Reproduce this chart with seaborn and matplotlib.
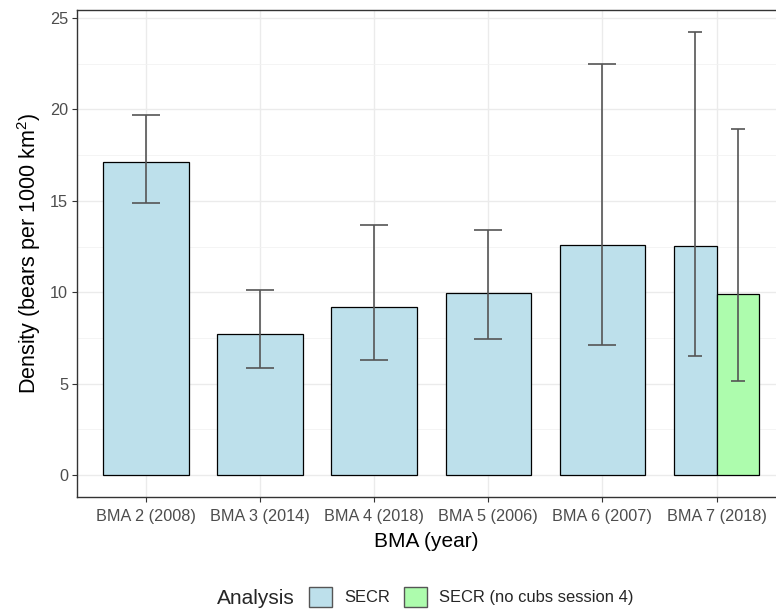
import numpy as np
import pandas as pd
import matplotlib
matplotlib.use("Agg")
import matplotlib.pyplot as plt
from matplotlib.patches import Patch
from matplotlib.ticker import MultipleLocator
import seaborn as sns

# ---- data ----
categories = ["BMA 2 (2008)", "BMA 3 (2014)", "BMA 4 (2018)", "BMA 5 (2006)",
              "BMA 6 (2007)", "BMA 7 (2018)"]
analysis_levels = ["SECR", "SECR (no cubs session 4)"]

bma = ["BMA 2 (2008)", "BMA 3 (2014)", "BMA 4 (2018)", "BMA 5 (2006)",
       "BMA 6 (2007)", "BMA 7 (2018)", "BMA 7 (2018)"]
analysis = ["SECR", "SECR", "SECR", "SECR", "SECR", "SECR", "SECR (no cubs session 4)"]
density = [17.1, 7.7, 9.2, 9.95, 12.6, 12.55, 9.9]
lower = [14.88, 5.85, 6.28, 7.45, 7.12, 6.5, 5.17]
upper = [19.7, 10.15, 13.7, 13.42, 22.48, 24.23, 18.92]

colors = {"SECR": "#BDE0EB", "SECR (no cubs session 4)": "#ADFCAD"}

df = pd.DataFrame({"BMA": bma, "Analysis": analysis, "Density": density,
                   "lower": lower, "upper": upper})

sns.set_theme(style="white")
plt.rcParams["font.family"] = ["Liberation Sans", "DejaVu Sans"]
plt.rcParams["mathtext.fontset"] = "custom"
plt.rcParams["mathtext.rm"] = "Liberation Sans"
plt.rcParams["mathtext.it"] = "Liberation Sans:italic"

fig = plt.figure(figsize=(7.76, 6.09), dpi=100)
W, H = 776, 609
ax = fig.add_axes([77 / W, (H - 497) / H, (776 - 77) / W, (497 - 10) / H])

# count analyses per category to decide dodging (like ggplot position_dodge)
counts = df.groupby("BMA")["Analysis"].transform("count")
single = df[counts == 1]
multi = df[counts > 1]

sns.barplot(data=single, x="BMA", y="Density", order=categories,
            color=colors["SECR"], saturation=1, width=0.75,
            edgecolor="black", linewidth=0.9, errorbar=None, ax=ax, zorder=2)
sns.barplot(data=multi, x="BMA", y="Density", hue="Analysis", order=categories,
            hue_order=analysis_levels, palette=colors, saturation=1, width=0.75,
            dodge=True, edgecolor="black", linewidth=0.9, errorbar=None,
            legend=False, ax=ax, zorder=2)

# error bars, positioned on category index with dodge offsets
bar_w = 0.75
for _, r in df.iterrows():
    present = [a for a in analysis_levels
               if a in set(df.loc[df["BMA"] == r["BMA"], "Analysis"])]
    n = len(present)
    idx = categories.index(r["BMA"])
    if n > 1:
        k = present.index(r["Analysis"])
        sub = bar_w / n
        x = idx - bar_w / 2 + sub * (k + 0.5)
        cap = 5.0
    else:
        x = idx
        cap = 10.4
    ax.errorbar([x], [r["Density"]],
                yerr=[[r["Density"] - r["lower"]], [r["upper"] - r["Density"]]],
                fmt="none", ecolor="#555555", elinewidth=1.2, capsize=cap,
                capthick=1.2, zorder=3)

ax.set_xlim(-0.605, -0.605 + 699 / 114.1)
ax.set_ylim(-1.2, 25.44)
ax.yaxis.set_major_locator(MultipleLocator(5))
ax.yaxis.set_minor_locator(MultipleLocator(2.5))
ax.grid(True, which="major", color="#EBEBEB", linewidth=1.0, zorder=0)
ax.grid(True, which="minor", axis="y", color="#F2F2F2", linewidth=0.6, zorder=0)
ax.set_axisbelow(True)

for side in ["left", "top", "bottom"]:
    ax.spines[side].set_color("#333333")
    ax.spines[side].set_linewidth(1.0)
ax.spines["right"].set_visible(False)

ax.tick_params(axis="both", which="major", length=3.5, width=0.8, color="#333333",
               labelsize=11.7, labelcolor="#4D4D4D", pad=3, left=True, bottom=True)
ax.tick_params(axis="x", which="major", pad=5)
ax.tick_params(axis="both", which="minor", length=0)

ax.set_xlabel("BMA (year)", fontsize=15, color="black", labelpad=6)
ax.set_ylabel(r"Density (bears per 1000 km$^2$)", fontsize=15.5, color="black", labelpad=5)

# legend (ggplot-style, title on the left)
fig.text(217 / W, 1 - 598 / H, "Analysis", fontsize=15, va="center", ha="left")
handles = [Patch(facecolor=colors[a], edgecolor="#555555", linewidth=1.0)
           for a in analysis_levels]
fig.legend(handles, analysis_levels, loc="center left",
           bbox_to_anchor=(309 / W, 1 - 597 / H), ncol=2, frameon=False,
           fontsize=11.9, handlelength=1.4, handleheight=1.4,
           handletextpad=0.75, columnspacing=0.8, borderpad=0, borderaxespad=0)

fig.savefig("out.png", dpi=100)
